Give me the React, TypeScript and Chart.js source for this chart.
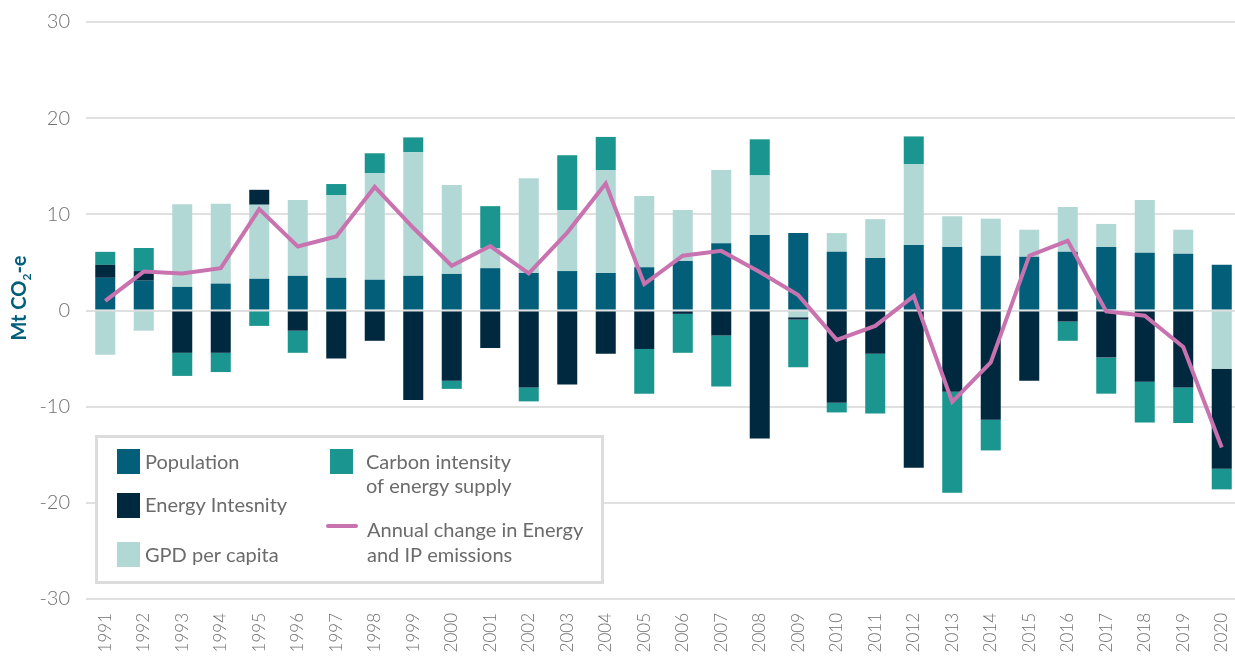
import React, { useEffect, useRef } from "react";
import { Chart, registerables } from "chart.js";
Chart.register(...registerables);

const years = [
  "1991", "1992", "1993", "1994", "1995", "1996", "1997", "1998", "1999", "2000",
  "2001", "2002", "2003", "2004", "2005", "2006", "2007", "2008", "2009", "2010",
  "2011", "2012", "2013", "2014", "2015", "2016", "2017", "2018", "2019", "2020",
];

const population = [3.4, 3.1, 2.45, 2.8, 3.3, 3.6, 3.4, 3.2, 3.6, 3.8, 4.4, 3.9, 4.1, 3.9, 4.5, 5.15, 7.0, 7.85, 8.05, 6.1, 5.45, 6.8, 6.6, 5.7, 5.6, 6.1, 6.6, 6.0, 5.9, 4.75];
const gdpPerCapita = [-4.6, -2.1, 8.6, 8.3, 7.7, 7.9, 8.6, 11.1, 12.85, 9.25, 2.1, 9.85, 6.35, 10.7, 7.4, 5.3, 7.6, 6.2, -0.7, 1.95, 4.05, 8.4, 3.2, 3.85, 2.8, 4.65, 2.4, 5.5, 2.5, -6.05];
const energyIntensity = [1.35, 1.0, -4.4, -4.4, 1.55, -2.1, -5.0, -3.15, -9.3, -7.3, -3.9, -8.0, -7.7, -4.5, -4.0, -0.35, -2.6, -13.3, -0.25, -9.6, -4.5, -16.35, -8.45, -11.35, -7.3, -1.15, -4.9, -7.4, -8.0, -10.4];
const carbonIntensity = [1.35, 2.4, -2.4, -2.0, -1.6, -2.3, 1.15, 2.05, 1.55, -0.85, 4.35, -1.45, 5.7, 3.45, -4.65, -4.05, -5.3, 3.75, -4.95, -1.0, -6.2, 2.9, -10.5, -3.2, 0, -2.0, -3.75, -4.25, -3.7, -2.15];
const annualChange = [1.0, 4.05, 3.85, 4.4, 10.55, 6.65, 7.7, 12.85, 8.6, 4.65, 6.7, 3.85, 8.1, 13.2, 2.75, 5.7, 6.2, 4.0, 1.6, -3.05, -1.6, 1.5, -9.5, -5.4, 5.7, 7.25, -0.1, -0.55, -3.8, -14.25];

const yTicks = [-30, -20, -10, 0, 10, 20, 30];

const C_POP = "#025E79";
const C_ENERGY = "#00293F";
const C_GDP = "#B1D8D4";
const C_CARBON = "#1B958F";
const C_LINE = "#C873AF";
const FONT = "Lato, 'Open Sans', sans-serif";
const TEXT_GRAY = "#707070";

const overlayPlugin = {
  id: "overlay",
  afterDraw(chart: any) {
    const c = chart.ctx as CanvasRenderingContext2D;
    c.save();
    // Y axis title
    const big = `bold 20px ${FONT}`;
    const small = `bold 12px ${FONT}`;
    c.font = big;
    const w1 = c.measureText("Mt CO").width;
    const w3 = c.measureText("-e").width;
    c.font = small;
    const w2 = c.measureText("2").width;
    const total = w1 + w2 + w3;
    c.translate(26, 298);
    c.rotate(-Math.PI / 2);
    c.fillStyle = C_POP;
    c.textBaseline = "alphabetic";
    c.textAlign = "left";
    let x = -total / 2;
    c.font = big;
    c.fillText("Mt CO", x, 0);
    x += w1;
    c.font = small;
    c.fillText("2", x, 5);
    x += w2;
    c.font = big;
    c.fillText("-e", x, 0);
    c.restore();

    // Legend box
    c.save();
    c.fillStyle = "#ffffff";
    c.fillRect(96, 436, 507, 147);
    c.strokeStyle = "#dcdcdc";
    c.lineWidth = 3;
    c.strokeRect(96.5, 436.5, 506, 146);

    c.fillStyle = C_POP;
    c.fillRect(117, 449, 23, 25);
    c.fillStyle = C_ENERGY;
    c.fillRect(117, 493, 23, 25);
    c.fillStyle = C_GDP;
    c.fillRect(117, 542, 23, 25);
    c.fillStyle = C_CARBON;
    c.fillRect(330, 449, 23, 25);
    c.strokeStyle = C_LINE;
    c.lineWidth = 4;
    c.lineCap = "round";
    c.beginPath();
    c.moveTo(328, 526);
    c.lineTo(356, 526);
    c.stroke();

    c.fillStyle = "#6b6b6b";
    c.font = `20px ${FONT}`;
    c.textBaseline = "alphabetic";
    c.textAlign = "left";
    c.fillText("Population", 145, 469);
    c.fillText("Energy Intesnity", 145, 512);
    c.fillText("GPD per capita", 145, 562);
    c.fillText("Carbon intensity", 366, 469);
    c.fillText("of energy supply", 366, 493);
    c.fillText("Annual change in Energy", 367, 537);
    c.fillText("and IP emissions", 367, 562);
    c.restore();
  },
};

export default function App() {
  const ref = useRef<HTMLCanvasElement>(null);
  useEffect(() => {
    document.body.style.margin = "0";
    const canvas = ref.current!;
    const barCommon = {
      type: "bar" as const,
      stack: "bars",
      order: 1,
      borderWidth: 0,
      barPercentage: 0.52,
      categoryPercentage: 1,
    };
    const chart = new Chart(canvas, {
      type: "bar",
      data: {
        labels: years,
        datasets: [
          { ...barCommon, label: "Population", data: population, backgroundColor: C_POP },
          { ...barCommon, label: "GPD per capita", data: gdpPerCapita, backgroundColor: C_GDP },
          { ...barCommon, label: "Energy Intesnity", data: energyIntensity, backgroundColor: C_ENERGY },
          { ...barCommon, label: "Carbon intensity of energy supply", data: carbonIntensity, backgroundColor: C_CARBON },
          {
            type: "line" as const,
            label: "Annual change in Energy and IP emissions",
            data: annualChange,
            borderColor: C_LINE,
            backgroundColor: C_LINE,
            borderWidth: 4,
            pointRadius: 0,
            tension: 0,
            stack: "line",
            order: 0,
          } as any,
        ],
      },
      options: {
        responsive: false,
        animation: false,
        layout: { padding: { top: 22, left: 0, right: 0, bottom: 0 } },
        plugins: { legend: { display: false }, tooltip: { enabled: false } },
        scales: {
          x: {
            stacked: true,
            grid: { display: false },
            border: { display: false },
            ticks: {
              autoSkip: false,
              minRotation: 90,
              maxRotation: 90,
              padding: 6,
              color: TEXT_GRAY,
              font: { family: FONT, size: 17, weight: "300" as any },
            },
            afterFit: (s: any) => {
              s.height = 63;
              s.paddingLeft = 0;
              s.paddingRight = 0;
              s.paddingTop = 0;
              s.paddingBottom = 0;
            },
          },
          y: {
            stacked: true,
            min: -30,
            max: 30,
            afterBuildTicks: (s: any) => {
              s.ticks = yTicks.map((v) => ({ value: v }));
            },
            grid: { color: "#e0e0e0", lineWidth: 2, drawTicks: false },
            border: { display: false },
            ticks: {
              padding: 16,
              color: TEXT_GRAY,
              font: { family: FONT, size: 20, weight: "300" as any },
            },
            afterFit: (s: any) => {
              s.width = 86;
              s.paddingTop = 0;
              s.paddingBottom = 0;
              s.paddingLeft = 0;
              s.paddingRight = 0;
            },
          },
        },
      },
      plugins: [overlayPlugin],
    });
    return () => chart.destroy();
  }, []);
  return (
    <div
      style={{
        position: "fixed",
        left: 0,
        top: 0,
        width: 1235,
        height: 662,
        overflow: "hidden",
        background: "#fff",
      }}
    >
      <canvas ref={ref} width={1241} height={662} style={{ display: "block" }} />
    </div>
  );
}
